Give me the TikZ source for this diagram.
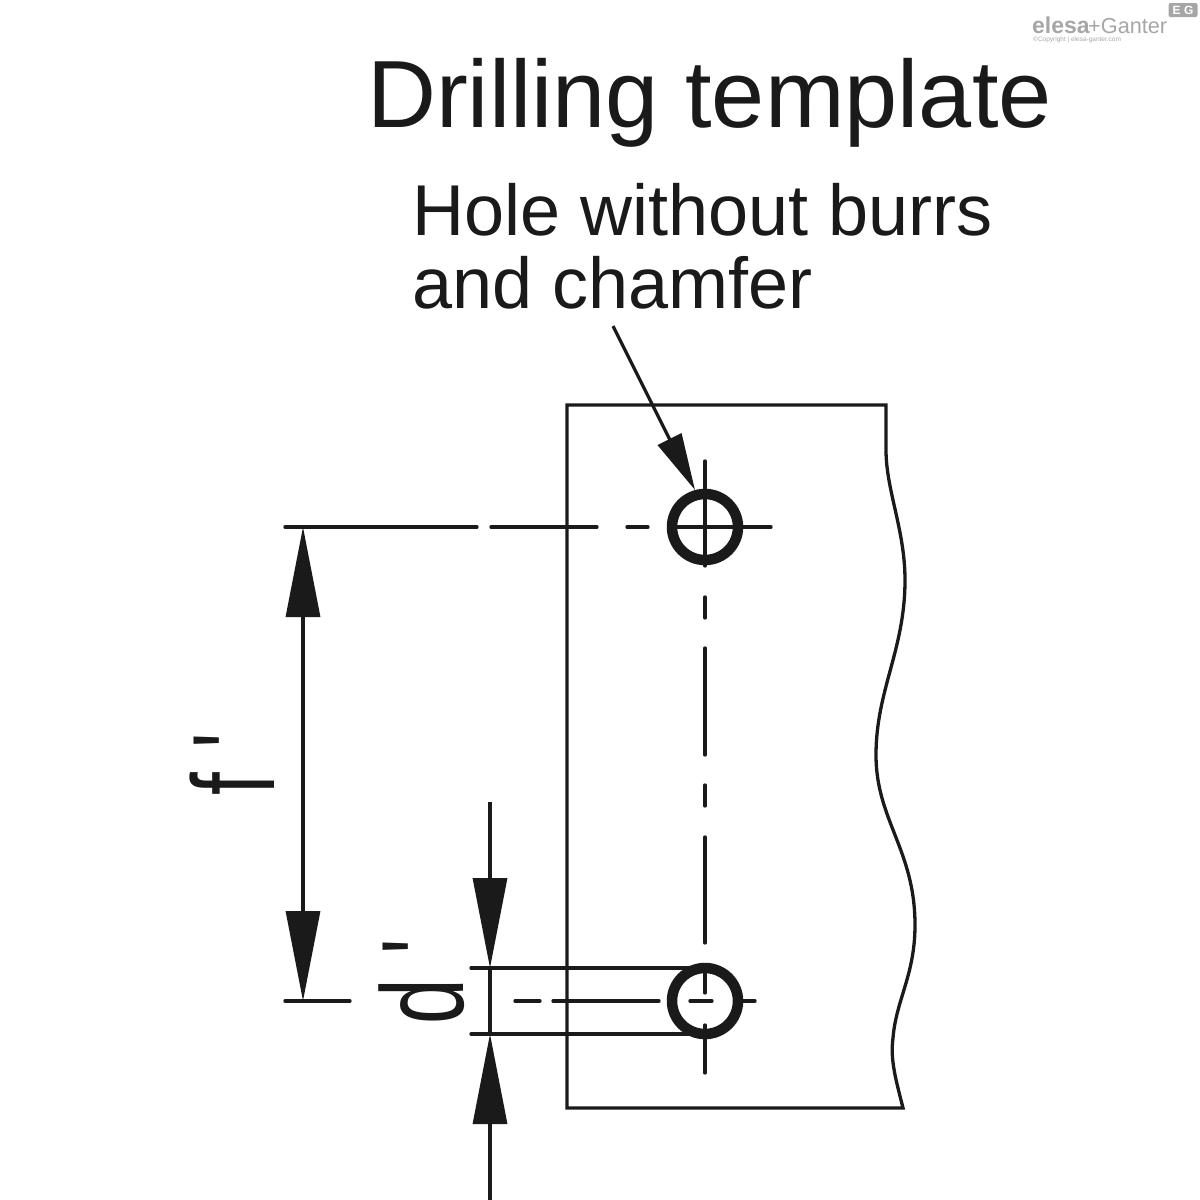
\documentclass[tikz,border=0pt]{standalone}
\usepackage{fontspec}
\setmainfont{Liberation Sans}
\newfontfamily\plainfont{Liberation Sans}
\usetikzlibrary{arrows.meta}
\definecolor{ink}{HTML}{1A1A1A}
\definecolor{logo}{HTML}{A6A6A6}
\tikzset{
  thinline/.style={draw=ink,line width=3.3pt,line cap=round},
  ring/.style={draw=ink,line width=10.5pt,circle,minimum size=66pt,inner sep=0pt},
  dimtip/.style={-{Triangle[length=90pt,width=34pt,color=ink]},draw=ink,line width=3.3pt},
  leadertip/.style={-{Triangle[length=57pt,width=26pt,color=ink]},draw=ink,line width=3.3pt},
  title/.style={inner sep=0pt,anchor=base west,text=ink,font=\fontsize{95.5}{95.5}\selectfont},
  note/.style={inner sep=0pt,anchor=base west,text=ink,align=left,font=\fontsize{72}{73}\selectfont},
  dimlabel/.style={inner sep=0pt,anchor=base west,rotate=90,text=ink,font=\plainfont\fontsize{117}{117}\selectfont},
  logotext/.style={inner sep=0pt,anchor=base west,text=logo},
}
\begin{document}
\begin{tikzpicture}[x=1pt,y=-1pt]
\useasboundingbox (0,0) rectangle (1200,1200);
% plate
\draw[draw=ink,line width=3.3pt,line join=miter]
  (886,405) -- (567,405) -- (567,1108) -- (903,1108)
  .. controls (896,1080) and (890,1060) .. (893,1038)
  .. controls (896,1000) and (915,975) .. (915,925)
  .. controls (915,850) and (876,820) .. (876,755)
  .. controls (876,690) and (905,650) .. (905,580)
  .. controls (905,530) and (886,490) .. (886,450) -- cycle;
% centre lines
\coordinate (tv1) at (705,461); \coordinate (tv2) at (705,566);
\coordinate (tv3) at (705,597); \coordinate (tv4) at (705,618);
\coordinate (tv5) at (705,648); \coordinate (tv6) at (705,755);
\coordinate (tv7) at (705,785); \coordinate (tv8) at (705,806);
\coordinate (tv9) at (705,837); \coordinate (tv10) at (705,943);
\coordinate (bv1) at (705,973); \coordinate (bv2) at (705,993);
\coordinate (bv3) at (705,1025); \coordinate (bv4) at (705,1073);
\draw[thinline] (tv1)--(tv2) (tv3)--(tv4) (tv5)--(tv6) (tv7)--(tv8) (tv9)--(tv10) (bv1)--(bv2) (bv3)--(bv4);
\coordinate (th1) at (285,527); \coordinate (th2) at (477,527);
\coordinate (th3) at (491,527); \coordinate (th4) at (597,527);
\coordinate (th5) at (627,527); \coordinate (th6) at (648,527);
\coordinate (th7) at (677,527); \coordinate (th8) at (771,527);
\draw[thinline] (th1)--(th2) (th3)--(th4) (th5)--(th6) (th7)--(th8);
\coordinate (bh1) at (285,1001); \coordinate (bh2) at (350,1001);
\coordinate (bh3) at (515,1001); \coordinate (bh4) at (540,1001);
\coordinate (bh5) at (553,1001); \coordinate (bh6) at (659,1001);
\coordinate (bh7) at (690,1001); \coordinate (bh8) at (712,1001);
\coordinate (bh9) at (743,1001); \coordinate (bh10) at (755,1001);
\draw[thinline] (bh1)--(bh2) (bh3)--(bh4) (bh5)--(bh6) (bh7)--(bh8) (bh9)--(bh10);
% extension lines
\coordinate (e1) at (471,968); \coordinate (e2) at (695,968);
\coordinate (e3) at (471,1034); \coordinate (e4) at (695,1034);
\draw[thinline] (e1)--(e2) (e3)--(e4);
% holes
\node[ring] (holeA) at (705,527) {};
\node[ring] (holeB) at (705,1001) {};
% dimension f'
\coordinate (fa) at (303,527); \coordinate (fb) at (303,1001);
\draw[dimtip,{Triangle[length=90pt,width=34pt,color=ink]}-{Triangle[length=90pt,width=34pt,color=ink]}] (fa)--(fb);
% dimension d'
\coordinate (da) at (490,802); \coordinate (db) at (490,968);
\coordinate (dc) at (490,1200); \coordinate (dd) at (490,1034);
\draw[dimtip] (da)--(db);
\draw[dimtip] (dc)--(dd);
\draw[draw=ink,line width=3.3pt] (db)--(dd);
% leader
\coordinate (lead) at (613,326); \coordinate (leadtip) at (695,490);
\draw[leadertip] (lead)--(leadtip);
% texts
\node[title] (ttl) at (367,127) {Drilling template};
\node[note] (nt) at (412,308) {Hole without burrs\\and chamfer};
\node[dimlabel] (lf) at (274,796) {\scalebox{0.7}[1]{f\kern 0.3em'}};
\node[dimlabel] (ld) at (463,1025) {\scalebox{0.7}[1]{d\kern 0.3em'}};
% logo
\node[logotext,font=\fontsize{23}{23}\selectfont\bfseries] (lg1) at (1032,33) {elesa};
\node[logotext,font=\fontsize{21.7}{21.7}\selectfont] (lg2) at (1088,33) {+Ganter};
\node[logotext,font=\fontsize{6.5}{6.5}\selectfont] (lg3) at (1033,41) {©Copyright | elesa-ganter.com};
\node[fill=logo,rounded corners=2pt,inner sep=0pt,minimum width=29pt,minimum height=14pt,text=white,font=\fontsize{12}{12}\selectfont\bfseries] (lg4) at (1183,10) {E G};
\end{tikzpicture}
\end{document}
